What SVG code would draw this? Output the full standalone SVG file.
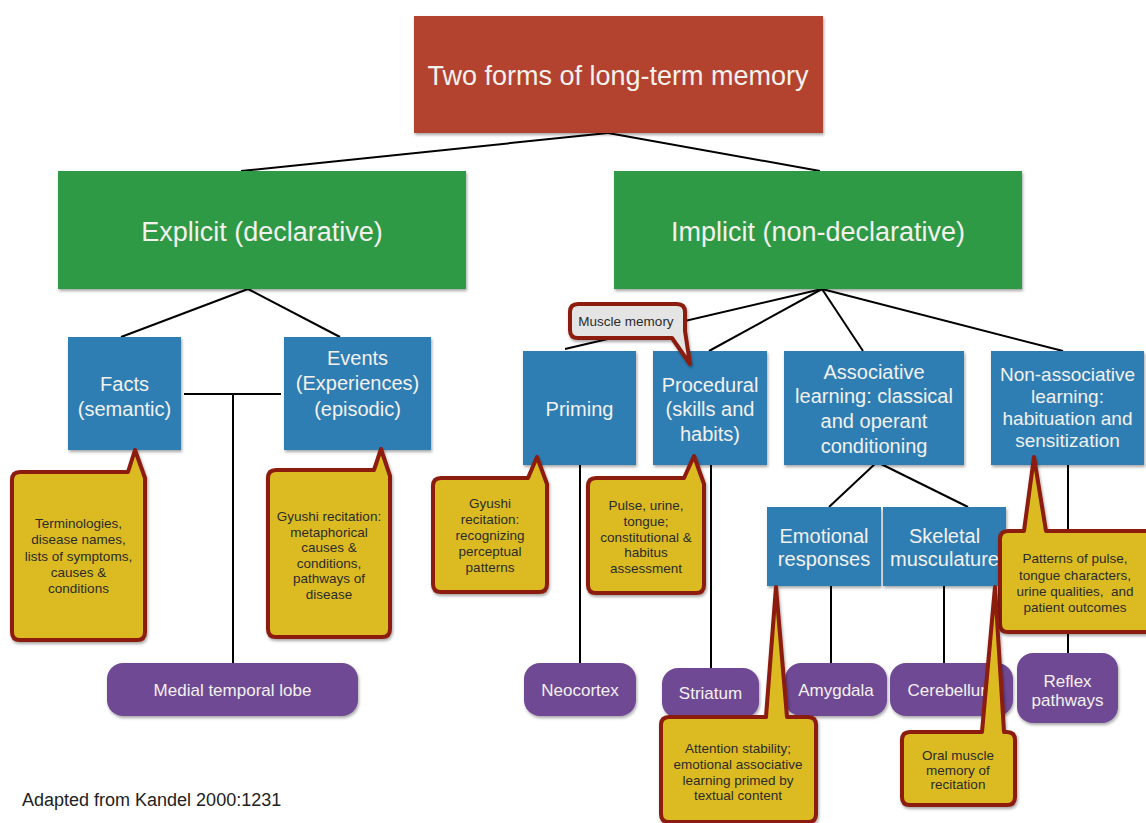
<svg xmlns="http://www.w3.org/2000/svg" width="1146" height="823" viewBox="0 0 1146 823">
  <defs>
    <filter id="shadow" x="-10%" y="-10%" width="130%" height="140%">
      <feDropShadow dx="1" dy="2" stdDeviation="1.5" flood-color="#000" flood-opacity="0.35"/>
    </filter>
    <style>
      text { font-family: "Liberation Sans", Arial, sans-serif; text-anchor: middle; }
      .root { fill: #b3432f; filter: url(#shadow); }
      .kind { fill: #2f9a44; filter: url(#shadow); }
      .sub { fill: #2e7eb4; filter: url(#shadow); }
      .area { fill: #6f4a94; filter: url(#shadow); }
      .note { fill: #dcbb22; stroke: #8c1a0c; stroke-width: 4; stroke-linejoin: round; filter: url(#shadow); }
      .tag { fill: #e4e4e4; stroke: #8c1a0c; stroke-width: 4; stroke-linejoin: round; filter: url(#shadow); }
      .lt { fill: #f3f1ee; }
      .big { font-size: 27px; }
      .mid { font-size: 20px; }
      .sm { font-size: 17px; }
      .nt { fill: #2b2b2b; font-size: 13.5px; }
      .link { stroke: #000; stroke-width: 2; fill: none; }
    </style>
  </defs>
  <rect width="1146" height="823" fill="#fff"/>

  <!-- connectors -->
  <g id="connectors" class="link">
    <line x1="608" y1="133" x2="241" y2="171"/>
    <line x1="608" y1="133" x2="820" y2="171"/>
    <line x1="248" y1="289" x2="121" y2="337"/>
    <line x1="248" y1="289" x2="340" y2="337"/>
    <line x1="184" y1="394" x2="281" y2="394"/>
    <line x1="233" y1="394" x2="233" y2="663"/>
    <line x1="822" y1="289" x2="565" y2="349"/>
    <line x1="822" y1="289" x2="709" y2="351"/>
    <line x1="822" y1="289" x2="863" y2="351"/>
    <line x1="822" y1="289" x2="1063" y2="351"/>
    <line x1="877" y1="462" x2="829" y2="507"/>
    <line x1="877" y1="462" x2="968" y2="507"/>
    <line x1="580" y1="465" x2="580" y2="663"/>
    <line x1="711" y1="465" x2="711" y2="668"/>
    <line x1="831" y1="586" x2="831" y2="663"/>
    <line x1="944" y1="586" x2="944" y2="663"/>
    <line x1="1068" y1="465" x2="1068" y2="654"/>
  </g>

  <g id="n-root">
    <rect class="root" x="414" y="16" width="409" height="117"/>
    <text class="lt big" x="618" y="85" font-size="26.5">Two forms of long-term memory</text>
  </g>

  <g id="n-explicit">
    <rect class="kind" x="58" y="171" width="408" height="118"/>
    <text class="lt big" x="262" y="241">Explicit (declarative)</text>
  </g>
  <g id="n-implicit">
    <rect class="kind" x="614" y="171" width="408" height="118"/>
    <text class="lt big" x="818" y="241">Implicit (non-declarative)</text>
  </g>

  <g id="n-facts">
    <rect class="sub" x="68" y="337" width="113" height="113"/>
    <text class="lt mid" x="124.5" y="391">Facts</text>
    <text class="lt mid" x="124.5" y="416">(semantic)</text>
  </g>
  <g id="n-events">
    <rect class="sub" x="284" y="337" width="147" height="113"/>
    <text class="lt mid" x="357.5" y="365">Events</text>
    <text class="lt mid" x="357.5" y="390">(Experiences)</text>
    <text class="lt mid" x="357.5" y="416">(episodic)</text>
  </g>

  <g id="n-priming">
    <rect class="sub" x="523" y="351" width="113" height="114"/>
    <text class="lt mid" x="579.5" y="416">Priming</text>
  </g>
  <g id="n-procedural">
    <rect class="sub" x="653" y="351" width="114" height="114"/>
    <text class="lt mid" x="710" y="392">Procedural</text>
    <text class="lt mid" x="710" y="416">(skills and</text>
    <text class="lt mid" x="710" y="441">habits)</text>
  </g>
  <g id="n-associative">
    <rect class="sub" x="784" y="351" width="180" height="114"/>
    <text class="lt mid" x="874" y="379">Associative</text>
    <text class="lt mid" x="874" y="403">learning: classical</text>
    <text class="lt mid" x="874" y="428">and operant</text>
    <text class="lt mid" x="874" y="453">conditioning</text>
  </g>
  <g id="n-nonassociative">
    <rect class="sub" x="991" y="351" width="153" height="114"/>
    <text class="lt" x="1067.5" y="381" font-size="19">Non-associative</text>
    <text class="lt" x="1067.5" y="403" font-size="19">learning:</text>
    <text class="lt" x="1067.5" y="425" font-size="19">habituation and</text>
    <text class="lt" x="1067.5" y="447" font-size="19">sensitization</text>
  </g>

  <g id="n-emotional">
    <rect class="sub" x="767" y="507" width="114" height="79"/>
    <text class="lt mid" x="824" y="543">Emotional</text>
    <text class="lt mid" x="824" y="566">responses</text>
  </g>
  <g id="n-skeletal">
    <rect class="sub" x="883" y="507" width="123" height="79"/>
    <text class="lt mid" x="944.5" y="543">Skeletal</text>
    <text class="lt mid" x="944.5" y="566">musculature</text>
  </g>

  <g id="n-medial">
    <rect class="area" x="107" y="663" width="251" height="53" rx="16"/>
    <text class="lt sm" x="232.5" y="696">Medial temporal lobe</text>
  </g>
  <g id="n-neocortex">
    <rect class="area" x="524" y="663" width="112" height="53" rx="16"/>
    <text class="lt sm" x="580" y="696">Neocortex</text>
  </g>
  <g id="n-striatum">
    <rect class="area" x="662" y="668" width="97" height="50" rx="16"/>
    <text class="lt sm" x="710.5" y="699">Striatum</text>
  </g>
  <g id="n-amygdala">
    <rect class="area" x="785" y="663" width="102" height="53" rx="16"/>
    <text class="lt sm" x="836" y="696">Amygdala</text>
  </g>
  <g id="n-cerebellum">
    <rect class="area" x="890" y="663" width="123" height="53" rx="16"/>
    <text class="lt sm" x="951" y="696">Cerebellum</text>
  </g>
  <g id="n-reflex">
    <rect class="area" x="1017" y="653" width="101" height="70" rx="16"/>
    <text class="lt sm" x="1067.5" y="687">Reflex</text>
    <text class="lt sm" x="1067.5" y="706">pathways</text>
  </g>

  <!-- callouts -->
  <g id="c-muscle">
    <path class="tag" d="M578,304 H677 Q685,304 685,312 V331 L690,364 L672,338 H578 Q570,338 570,330 V312 Q570,304 578,304 Z"/>
    <text x="626" y="326" fill="#2b2b2b" font-size="13.5">Muscle memory</text>
  </g>
  <g id="c-facts">
    <path class="note" d="M20,472 H128 L135,450 L145,478 V632 Q145,640 137,640 H20 Q12,640 12,632 V480 Q12,472 20,472 Z"/>
    <text class="nt" x="78.5" y="528">Terminologies,</text>
    <text class="nt" x="78.5" y="544">disease names,</text>
    <text class="nt" x="78.5" y="561">lists of symptoms,</text>
    <text class="nt" x="78.5" y="577">causes &amp;</text>
    <text class="nt" x="78.5" y="593">conditions</text>
  </g>
  <g id="c-events">
    <path class="note" d="M276,470 H374 L381,449 L390,476 V629 Q390,637 382,637 H276 Q268,637 268,629 V478 Q268,470 276,470 Z"/>
    <text class="nt" x="329" y="521">Gyushi recitation:</text>
    <text class="nt" x="329" y="537">metaphorical</text>
    <text class="nt" x="329" y="552">causes &amp;</text>
    <text class="nt" x="329" y="568">conditions,</text>
    <text class="nt" x="329" y="583">pathways of</text>
    <text class="nt" x="329" y="599">disease</text>
  </g>
  <g id="c-priming">
    <path class="note" d="M441,478 H528 L537,457 L547,484 V584 Q547,592 539,592 H441 Q433,592 433,584 V486 Q433,478 441,478 Z"/>
    <text class="nt" x="490" y="508">Gyushi</text>
    <text class="nt" x="490" y="524">recitation:</text>
    <text class="nt" x="490" y="540">recognizing</text>
    <text class="nt" x="490" y="556">perceptual</text>
    <text class="nt" x="490" y="572">patterns</text>
  </g>
  <g id="c-procedural">
    <path class="note" d="M596,478 H684 L694,456 L704,484 V585 Q704,593 696,593 H596 Q588,593 588,585 V486 Q588,478 596,478 Z"/>
    <text class="nt" x="646" y="510">Pulse, urine,</text>
    <text class="nt" x="646" y="526">tongue;</text>
    <text class="nt" x="646" y="542">constitutional &amp;</text>
    <text class="nt" x="646" y="557">habitus</text>
    <text class="nt" x="646" y="573">assessment</text>
  </g>
  <g id="c-patterns">
    <path class="note" d="M1008,531 H1024 L1034,457 L1046,531 H1160 V632 H1008 Q1000,632 1000,624 V539 Q1000,531 1008,531 Z"/>
    <text class="nt" x="1075" y="563" font-size="13">Patterns of pulse,</text>
    <text class="nt" x="1075" y="580" font-size="13">tongue characters,</text>
    <text class="nt" x="1075" y="596" font-size="13" xml:space="preserve">urine qualities,  and</text>
    <text class="nt" x="1075" y="612" font-size="13">patient outcomes</text>
  </g>
  <g id="c-attention">
    <path class="note" d="M669,717 H766 L776,587 L787,717 H808 Q816,717 816,725 V814 Q816,822 808,822 H669 Q661,822 661,814 V725 Q661,717 669,717 Z"/>
    <text class="nt" x="738" y="753" font-size="13">Attention stability;</text>
    <text class="nt" x="738" y="769" font-size="13">emotional associative</text>
    <text class="nt" x="738" y="785" font-size="13">learning primed by</text>
    <text class="nt" x="738" y="800" font-size="13">textual content</text>
  </g>
  <g id="c-oral">
    <path class="note" d="M910,732 H982 L995,587 L1004,732 H1007 Q1015,732 1015,740 V797 Q1015,805 1007,805 H910 Q902,805 902,797 V740 Q902,732 910,732 Z"/>
    <text class="nt" x="958" y="760" font-size="13">Oral muscle</text>
    <text class="nt" x="958" y="775" font-size="13">memory of</text>
    <text class="nt" x="958" y="789" font-size="13">recitation</text>
  </g>

  <text x="22" y="806" font-size="18" fill="#222" style="text-anchor:start">Adapted from Kandel 2000:1231</text>
</svg>
